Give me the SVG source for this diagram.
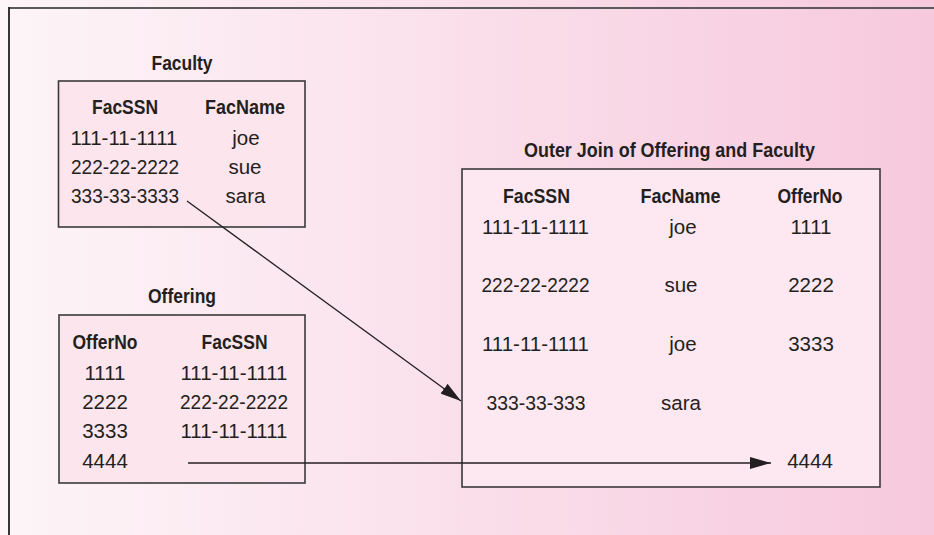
<svg xmlns="http://www.w3.org/2000/svg" width="934" height="535" viewBox="0 0 934 535">
<defs>
<linearGradient id="bg" x1="0" y1="0" x2="1" y2="0">
<stop offset="0" stop-color="#fdf5f8"/>
<stop offset="1" stop-color="#f7c9dd"/>
</linearGradient>
<marker id="ah" markerWidth="21" markerHeight="12" refX="21" refY="6" orient="auto" markerUnits="userSpaceOnUse">
<path d="M0,0 L21,6 L0,12 Z" fill="#231f20"/>
</marker>
<style>
text{font-family:"Liberation Sans",Arial,sans-serif;fill:#231f20}
.h{font-weight:bold;font-size:20px;text-anchor:middle}
.d{font-size:20.5px;text-anchor:middle}
.box{fill:#fde5ee;stroke:#3a3a3a;stroke-width:1.6}
.conn{stroke:#231f20;stroke-width:1.3;fill:none}
</style>
</defs>
<rect x="0" y="0" width="934" height="535" fill="url(#bg)"/>
<path d="M9,8 H934" stroke="#5a5a5a" stroke-width="2.2" fill="none"/>
<path d="M9,7 V535" stroke="#231f20" stroke-width="1.8" fill="none"/>

<g id="faculty">
<text class="h" x="182" y="70" textLength="61" lengthAdjust="spacingAndGlyphs">Faculty</text>
<rect class="box" x="58.5" y="81" width="246.5" height="146"/>
<text class="h" x="125" y="114" textLength="66" lengthAdjust="spacingAndGlyphs">FacSSN</text>
<text class="h" x="245" y="114" textLength="80" lengthAdjust="spacingAndGlyphs">FacName</text>
<text class="d" x="124" y="145" textLength="107" lengthAdjust="spacingAndGlyphs">111-11-1111</text>
<text class="d" x="246" y="145">joe</text>
<text class="d" x="125" y="173.5" textLength="108" lengthAdjust="spacingAndGlyphs">222-22-2222</text>
<text class="d" x="245" y="173.5">sue</text>
<text class="d" x="125" y="203" textLength="108" lengthAdjust="spacingAndGlyphs">333-33-3333</text>
<text class="d" x="245.5" y="203">sara</text>
</g>

<g id="offering">
<text class="h" x="182" y="303" textLength="68" lengthAdjust="spacingAndGlyphs">Offering</text>
<rect class="box" x="59" y="315" width="246" height="168"/>
<text class="h" x="105" y="349" textLength="65" lengthAdjust="spacingAndGlyphs">OfferNo</text>
<text class="h" x="234.5" y="349" textLength="66" lengthAdjust="spacingAndGlyphs">FacSSN</text>
<text class="d" x="105" y="380">1111</text>
<text class="d" x="234" y="380" textLength="107" lengthAdjust="spacingAndGlyphs">111-11-1111</text>
<text class="d" x="105" y="408.5">2222</text>
<text class="d" x="234" y="408.5" textLength="108" lengthAdjust="spacingAndGlyphs">222-22-2222</text>
<text class="d" x="105" y="438">3333</text>
<text class="d" x="234" y="438" textLength="107" lengthAdjust="spacingAndGlyphs">111-11-1111</text>
<text class="d" x="105" y="468">4444</text>
</g>

<g id="outerjoin">
<text class="h" x="669.5" y="157" textLength="291" lengthAdjust="spacingAndGlyphs">Outer Join of Offering and Faculty</text>
<rect class="box" x="462" y="169" width="418" height="318" style="fill:#fde7f0"/>
<text class="h" x="536.5" y="203" textLength="67" lengthAdjust="spacingAndGlyphs">FacSSN</text>
<text class="h" x="680.5" y="203" textLength="80" lengthAdjust="spacingAndGlyphs">FacName</text>
<text class="h" x="810" y="203" textLength="65" lengthAdjust="spacingAndGlyphs">OfferNo</text>
<text class="d" x="535.5" y="233.5" textLength="107" lengthAdjust="spacingAndGlyphs">111-11-1111</text>
<text class="d" x="683" y="233.5">joe</text>
<text class="d" x="811" y="233.5">1111</text>
<text class="d" x="535.5" y="292" textLength="108" lengthAdjust="spacingAndGlyphs">222-22-2222</text>
<text class="d" x="681" y="292">sue</text>
<text class="d" x="811" y="292">2222</text>
<text class="d" x="535.5" y="351" textLength="107" lengthAdjust="spacingAndGlyphs">111-11-1111</text>
<text class="d" x="683" y="351">joe</text>
<text class="d" x="811" y="351">3333</text>
<text class="d" x="536" y="409.5" textLength="99" lengthAdjust="spacingAndGlyphs">333-33-333</text>
<text class="d" x="681" y="409.5">sara</text>
<text class="d" x="810" y="468">4444</text>
</g>

<g id="connectors">
<path class="conn" d="M187,201 L461,401" marker-end="url(#ah)"/>
<path class="conn" d="M188,463 L771,463" marker-end="url(#ah)"/>
</g>
</svg>
